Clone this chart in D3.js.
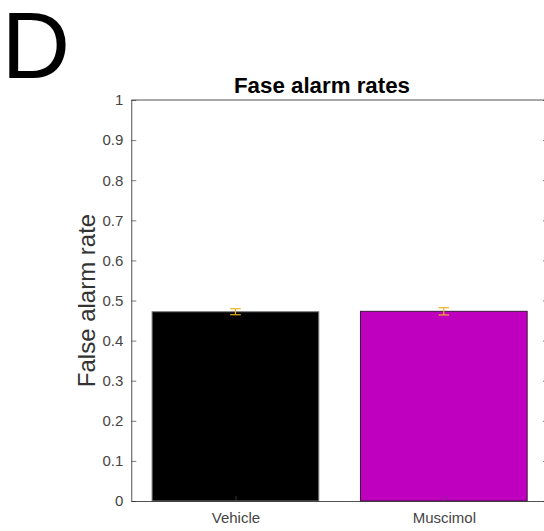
<!DOCTYPE html>
<html>
<head>
<meta charset="utf-8">
<script src="https://cdn.jsdelivr.net/npm/d3@7"></script>
<style>
  html, body { margin: 0; padding: 0; background: #fff; }
  svg { display: block; font-family: "Liberation Sans", Arial, Helvetica, sans-serif; }
</style>
</head>
<body>
<svg id="chart" width="544" height="531"></svg>
<script>
// Group names, mean false alarm rates and their error half-widths
const categories = ["Vehicle", "Muscimol"];
const means = [0.472, 0.473];
const errors = [0.0075, 0.009];
const barColors = ["#000000", "#bf00bf"];
const yTicks = [0, 0.1, 0.2, 0.3, 0.4, 0.5, 0.6, 0.7, 0.8, 0.9, 1];
const tickLabels = ["0", "0.1", "0.2", "0.3", "0.4", "0.5", "0.6", "0.7", "0.8", "0.9", "1"];

const svg = d3.select("#chart");
const axisColor = "#262626";
const tickTextColor = "#454545";

// Plot box (right edge runs slightly past the page)
const plotLeft = 131.25, plotRight = 548, plotTop = 100, plotBottom = 501;

const x = d3.scaleLinear().domain([0.5, categories.length + 0.5]).range([plotLeft, plotRight]);
const y = d3.scaleLinear().domain([0, 1]).range([plotBottom, plotTop]);
const barWidth = 0.8;

// Panel letter
svg.append("text")
  .attr("x", 1.5).attr("y", 78)
  .attr("font-size", 95)
  .attr("fill", "#000")
  .text("D");

// Title
svg.append("text")
  .attr("x", 322).attr("y", 93)
  .attr("text-anchor", "middle")
  .attr("font-size", 22.3)
  .attr("font-weight", "bold")
  .attr("fill", "#000")
  .text("Fase alarm rates");

// Bars
svg.append("g").selectAll("rect")
  .data(means)
  .join("rect")
  .attr("x", (d, i) => x(i + 1 - barWidth / 2))
  .attr("width", x(1 + barWidth) - x(1))
  .attr("y", d => y(d))
  .attr("height", d => y(0) - y(d))
  .attr("fill", (d, i) => barColors[i])
  .attr("stroke", (d, i) => i === 0 ? "#7a7a7a" : "#3a1a3a")
  .attr("stroke-width", 1);

// Error bars
const eb = svg.append("g").attr("stroke", "#edb120").attr("stroke-width", 1.2).attr("fill", "none");
means.forEach((m, i) => {
  const cx = x(i + 1);
  const lo = y(m - errors[i]), hi = y(m + errors[i]);
  eb.append("line").attr("x1", cx).attr("x2", cx).attr("y1", lo).attr("y2", hi);
  eb.append("line").attr("x1", cx - 5.3).attr("x2", cx + 5.3).attr("y1", lo).attr("y2", lo);
  eb.append("line").attr("x1", cx - 5.3).attr("x2", cx + 5.3).attr("y1", hi).attr("y2", hi);
});

// Left axis with inward ticks
const yAxis = d3.axisLeft(y)
  .tickValues(yTicks)
  .tickFormat((d, i) => tickLabels[i])
  .tickSizeInner(-5)
  .tickSizeOuter(0)
  .tickPadding(8);
const gy = svg.append("g").attr("transform", `translate(${plotLeft},0)`).call(yAxis);
gy.selectAll("text").attr("font-size", 15).attr("fill", tickTextColor).attr("font-family", "Liberation Sans, Arial, sans-serif");
gy.selectAll("line").attr("stroke", axisColor).attr("stroke-width", 0.6);
gy.select(".domain").attr("stroke", axisColor).attr("stroke-width", 0.8);

// Right axis ticks (box)
const gyr = svg.append("g").attr("transform", `translate(${plotRight},0)`)
  .call(d3.axisRight(y).tickValues(yTicks).tickFormat("").tickSizeInner(-5).tickSizeOuter(0));
gyr.selectAll("line").attr("stroke", axisColor).attr("stroke-width", 0.6);
gyr.select(".domain").attr("stroke", axisColor).attr("stroke-width", 0.8);

// Bottom axis
const xAxis = d3.axisBottom(x)
  .tickValues(categories.map((c, i) => i + 1))
  .tickFormat((d, i) => categories[i])
  .tickSizeInner(-5)
  .tickSizeOuter(0)
  .tickPadding(11);
const gx = svg.append("g").attr("transform", `translate(0,${plotBottom})`).call(xAxis);
gx.selectAll("text").attr("font-size", 15).attr("fill", tickTextColor).attr("font-family", "Liberation Sans, Arial, sans-serif");
gx.selectAll("line").attr("stroke", "#555").attr("stroke-width", 0.6);
gx.select(".domain").attr("stroke", axisColor).attr("stroke-width", 0.8);

// Top box line
svg.append("line")
  .attr("x1", plotLeft).attr("x2", plotRight).attr("y1", plotTop).attr("y2", plotTop)
  .attr("stroke", axisColor).attr("stroke-width", 0.8);

// Y axis label
svg.append("text")
  .attr("transform", `translate(95,${(plotTop + plotBottom) / 2}) rotate(-90)`)
  .attr("text-anchor", "middle")
  .attr("font-size", 24)
  .attr("fill", "#333")
  .text("False alarm rate");
</script>
</body>
</html>
